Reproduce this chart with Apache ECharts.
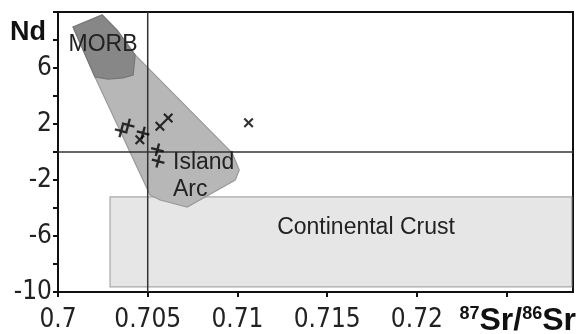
<!DOCTYPE html>
<html><head><meta charset="utf-8">
<script src="https://cdn.jsdelivr.net/npm/echarts@6/dist/echarts.min.js"></script>
<style>html,body{margin:0;padding:0;background:#fff}#c{width:579px;height:334px}</style>
</head><body><div id="c"></div>
<script>
// ---- data ----
const xLabels = ['0.7', '0.705', '0.71', '0.715', '0.72'];
const yLabels = [-10, -6, -2, 2, 6];
const plusPts = [[0.70352, 1.50], [0.70391, 1.93], [0.70474, 1.36], [0.70554, 0.16], [0.70558, -0.66]];
const crossPts = [[0.70456, 0.88], [0.70568, 1.84], [0.70614, 2.43], [0.71062, 2.09]];
const morbPoly = [[0.70084, 8.93], [0.70246, 9.79], [0.70329, 8.71], [0.70430, 6.93], [0.70419, 5.50], [0.70363, 5.29], [0.70279, 5.21], [0.70206, 5.36]];
const arcPoly = [[0.70084, 8.93], [0.70246, 9.79], [0.70329, 8.71], [0.70430, 6.93], [0.70971, -0.07], [0.71010, -1.29], [0.70988, -2.0], [0.70720, -3.93], [0.70569, -3.43], [0.70513, -3.07], [0.70206, 5.36]];
const crustPoly = [[0.7029, -3.21], [0.72863, -3.21], [0.72863, -9.64], [0.7029, -9.64]];
const refX = 0.705, refY = 0;
const xMin = 0.7, xMax = 0.7287, yMin = -10, yMax = 10;

const shapes = [
  {pts: crustPoly, fill: '#e6e6e6', stroke: '#a8a8a8'},
  {pts: arcPoly, fill: '#b7b7b7', stroke: '#9a9a9a'},
  {pts: morbPoly, fill: '#878787', stroke: '#777'}
];
const tickFont = "'Liberation Sans Narrow','Arial Narrow','DejaVu Sans Condensed','Liberation Sans',sans-serif";
const plusPath = 'path://M4.1,0H5.9V4.1H10V5.9H5.9V10H4.1V5.9H0V4.1H4.1Z';

const chart = echarts.init(document.getElementById('c'), null, {renderer: 'canvas'});
chart.setOption({
  animation: false,
  backgroundColor: '#fff',
  grid: {left: 58, top: 12, right: 6, bottom: 42, show: true, borderColor: '#111', borderWidth: 2, backgroundColor: 'transparent'},
  xAxis: {
    type: 'value', min: xMin, max: xMax, interval: 0.005,
    splitLine: {show: false},
    axisLine: {onZero: false, lineStyle: {color: '#111', width: 2}},
    axisTick: {show: true, length: 5, lineStyle: {color: '#111', width: 2}},
    axisLabel: {
      margin: 15, fontSize: 26, color: '#222', fontFamily: tickFont,
      showMaxLabel: false,
      formatter: v => { const s = xLabels.find(l => Math.abs(parseFloat(l) - v) < 1e-7); return s || ''; }
    }
  },
  yAxis: {
    type: 'value', min: yMin, max: yMax, interval: 2,
    splitLine: {show: false},
    axisLine: {onZero: false, lineStyle: {color: '#111', width: 2}},
    axisTick: {show: true, length: 5, lineStyle: {color: '#111', width: 2}},
    axisLabel: {
      margin: 6, fontSize: 26, color: '#222', fontFamily: tickFont,
      formatter: v => yLabels.includes(Math.round(v)) ? String(Math.round(v)) : ''
    }
  },
  series: [
    {
      type: 'custom', coordinateSystem: 'cartesian2d', z: 1,
      data: shapes.map((s, i) => [i, 0]),
      encode: {x: 0, y: 1},
      renderItem: (params, api) => {
        const s = shapes[params.dataIndex];
        return {type: 'polygon', shape: {points: s.pts.map(p => api.coord(p))},
          style: {fill: s.fill, stroke: s.stroke, lineWidth: 1.2}};
      },
      silent: true
    },
    {
      type: 'line', z: 3, symbol: 'none', silent: true,
      data: [[refX, yMin], [refX, yMax]],
      lineStyle: {color: '#333', width: 1.5}
    },
    {
      type: 'line', z: 3, symbol: 'none', silent: true,
      data: [[xMin, refY], [xMax, refY]],
      lineStyle: {color: '#333', width: 1.5}
    },
    {
      type: 'scatter', z: 5, symbol: plusPath, symbolSize: 13, symbolRotate: -15,
      itemStyle: {color: '#000'}, data: plusPts
    },
    {
      type: 'scatter', z: 5, symbol: plusPath, symbolSize: 12, symbolRotate: 45,
      itemStyle: {color: '#000'}, data: crossPts
    }
  ],
  graphic: [
    {type: 'text', left: 10, top: 19, z: 10, style: {text: 'Nd', font: "bold 27px 'Liberation Sans', Arial, sans-serif", fill: '#111'}},
    {type: 'text', x: 103, y: 45, z: 10, style: {text: 'MORB', font: "23px 'Liberation Sans', Arial, sans-serif", fill: '#222', textAlign: 'center', textVerticalAlign: 'middle'}},
    {type: 'text', x: 173, y: 163, z: 10, style: {text: 'Island', font: "23px 'Liberation Sans', Arial, sans-serif", fill: '#222', textAlign: 'left', textVerticalAlign: 'middle'}},
    {type: 'text', x: 173, y: 190, z: 10, style: {text: 'Arc', font: "23px 'Liberation Sans', Arial, sans-serif", fill: '#222', textAlign: 'left', textVerticalAlign: 'middle'}},
    {type: 'text', x: 366, y: 228, z: 10, style: {text: 'Continental Crust', font: "23px 'Liberation Sans', Arial, sans-serif", fill: '#222', textAlign: 'center', textVerticalAlign: 'middle'}},
    {type: 'text', x: 576, y: 321, z: 10, style: {
      text: '{s|87}{b|Sr/}{s|86}{b|Sr}', textAlign: 'right', textVerticalAlign: 'middle',
      rich: {
        s: {fontSize: 18, fontWeight: 'bold', fontFamily: "'Liberation Sans', Arial, sans-serif", fill: '#111', verticalAlign: 'top', padding: [0, 0, 12, 0]},
        b: {fontSize: 32, fontWeight: 'bold', fontFamily: "'Liberation Sans', Arial, sans-serif", fill: '#111'}
      }
    }}
  ]
});
</script></body></html>
